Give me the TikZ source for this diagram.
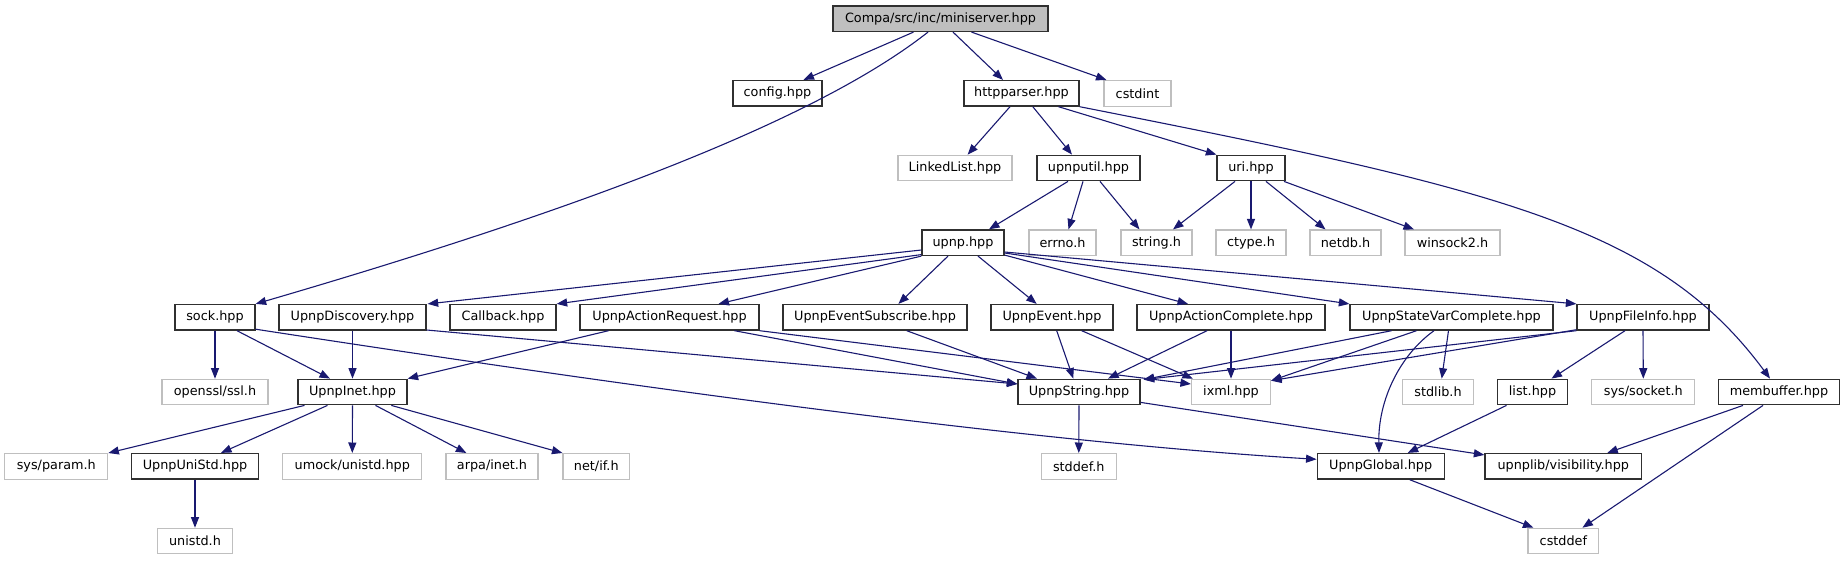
\documentclass[tikz,border=0pt]{standalone}
\usepackage{fontspec}
\setmainfont{DejaVu Sans}
\usetikzlibrary{arrows.meta}
\definecolor{edgec}{HTML}{191970}
\definecolor{grayb}{HTML}{BFBFBF}
\definecolor{darkb}{HTML}{303030}
\tikzset{
  box/.style={draw=darkb, line width=1.3pt, fill=white, minimum height=25.5pt, inner sep=0pt, font=\fontsize{12.8}{15}\selectfont},
  gbox/.style={box, draw=grayb, line width=1.1pt},
  rootbox/.style={box, fill=grayb},
  e/.style={draw=edgec, line width=1.1pt, -{Triangle[length=10.5pt,width=8pt]}}
}
\begin{document}
\begin{tikzpicture}[x=1pt,y=-1pt]
\useasboundingbox (0,0) rectangle (1845,560);
% row 0
\node[rootbox, minimum width=215pt] (root) at (940.5,18.7) {Compa/src/inc/miniserver.hpp};
% row 1
\node[box, minimum width=89pt] (config) at (777.5,93.3) {config.hpp};
\node[box, minimum width=115pt] (httpparser) at (1021.5,93.3) {httpparser.hpp};
\node[gbox, minimum width=67pt] (cstdint) at (1137.5,93.3) {cstdint};
% row 2
\node[gbox, minimum width=114pt] (linkedlist) at (955,168) {LinkedList.hpp};
\node[box, minimum width=103pt] (upnputil) at (1088.5,168) {upnputil.hpp};
\node[box, minimum width=68pt] (uri) at (1251,168) {uri.hpp};
% row 3
\node[box, minimum width=82pt] (upnp) at (963,242.7) {upnp.hpp};
\node[gbox, minimum width=67pt] (errno) at (1062.5,242.7) {errno.h};
\node[gbox, minimum width=71pt] (stringh) at (1156.5,242.7) {string.h};
\node[gbox, minimum width=70pt] (ctype) at (1251,242.7) {ctype.h};
\node[gbox, minimum width=71pt] (netdb) at (1345.5,242.7) {netdb.h};
\node[gbox, minimum width=95pt] (winsock) at (1452.5,242.7) {winsock2.h};
% row 4
\node[box, minimum width=80pt] (sock) at (215,317.3) {sock.hpp};
\node[box, minimum width=147pt] (discovery) at (352.5,317.3) {UpnpDiscovery.hpp};
\node[box, minimum width=106pt] (callback) at (503,317.3) {Callback.hpp};
\node[box, minimum width=179pt] (actreq) at (669.5,317.3) {UpnpActionRequest.hpp};
\node[box, minimum width=184pt] (evsub) at (875,317.3) {UpnpEventSubscribe.hpp};
\node[box, minimum width=122pt] (event) at (1052,317.3) {UpnpEvent.hpp};
\node[box, minimum width=188pt] (actcomp) at (1231,317.3) {UpnpActionComplete.hpp};
\node[box, minimum width=203pt] (statevar) at (1451.5,317.3) {UpnpStateVarComplete.hpp};
\node[box, minimum width=132pt] (fileinfo) at (1643,317.3) {UpnpFileInfo.hpp};
% row 5
\node[gbox, minimum width=106pt] (openssl) at (215,392) {openssl/ssl.h};
\node[box, minimum width=109pt] (inet) at (352.5,392) {UpnpInet.hpp};
\node[box, minimum width=122pt] (upnpstring) at (1079,392) {UpnpString.hpp};
\node[gbox, minimum width=79pt] (ixml) at (1231,392) {ixml.hpp};
\node[gbox, minimum width=70.6pt] (stdlib) at (1438,392) {stdlib.h};
\node[box, minimum width=70pt] (list) at (1532.5,392) {list.hpp};
\node[gbox, minimum width=103pt] (syssocket) at (1643.3,392) {sys/socket.h};
\node[box, minimum width=121pt] (membuffer) at (1779,392) {membuffer.hpp};
% row 6
\node[gbox, minimum width=103pt] (sysparam) at (56.3,466.3) {sys/param.h};
\node[box, minimum width=127pt] (unistd) at (195,466.3) {UpnpUniStd.hpp};
\node[gbox, minimum width=139pt] (umock) at (352.3,466.3) {umock/unistd.hpp};
\node[gbox, minimum width=92pt] (arpa) at (492,466.3) {arpa/inet.h};
\node[gbox, minimum width=66.6pt] (netif) at (596.3,466.3) {net/if.h};
\node[gbox, minimum width=74.5pt] (stddef) at (1078.8,466.3) {stddef.h};
\node[box, minimum width=127pt] (global) at (1380.7,466.3) {UpnpGlobal.hpp};
\node[box, minimum width=156.6pt] (visibility) at (1563.3,466.3) {upnplib/visibility.hpp};
% row 7
\node[gbox, minimum width=75pt] (unistdh) at (195,541) {unistd.h};
\node[gbox, minimum width=70.8pt] (cstddef) at (1563.4,541) {cstddef};

% root edges
\draw[e] ([shift={(-27,0)}]root.south) -- ([shift={(26,0)}]config.north);
\draw[e] ([shift={(-12.5,0)}]root.south) .. controls (810,125) and (560,215) .. (sock.north east);
\draw[e] ([shift={(12.5,0)}]root.south) -- ([shift={(-18.5,0)}]httpparser.north);
\draw[e] ([shift={(31,0)}]root.south) -- ([shift={(-31,0)}]cstdint.north);
% httpparser
\draw[e] ([shift={(-11.5,0)}]httpparser.south) -- ([shift={(12.6,0)}]linkedlist.north);
\draw[e] ([shift={(11.3,0)}]httpparser.south) -- ([shift={(-16.5,0)}]upnputil.north);
\draw[e] ([shift={(37,0)}]httpparser.south) -- (uri.north west);
\draw[e] (httpparser.south east) .. controls (1500,189.5) and (1658,227) .. ([shift={(-9,0)}]membuffer.north);
% upnputil, uri
\draw[e] ([shift={(-20.5,0)}]upnputil.south) -- ([shift={(26,0)}]upnp.north);
\draw[e] ([shift={(-5.5,0)}]upnputil.south) -- ([shift={(6,0)}]errno.north);
\draw[e] ([shift={(11.5,0)}]upnputil.south) -- ([shift={(-17,0)}]stringh.north);
\draw[e] ([shift={(-16,0)}]uri.south) -- ([shift={(16.5,0)}]stringh.north);
\draw[e] (uri.south) -- (ctype.north);
\draw[e] ([shift={(15,0)}]uri.south) -- ([shift={(-20,0)}]netdb.north);
\draw[e] ([shift={(33,0)}]uri.south) -- ([shift={(-38.5,0)}]winsock.north);
% upnp
\draw[e] ([shift={(0,7.3)}]upnp.west) -- ([shift={(1,0)}]discovery.north east);
\draw[e] ([shift={(0,-1.5)}]upnp.south west) -- (callback.north east);
\draw[e] (upnp.south west) -- ([shift={(49,0)}]actreq.north);
\draw[e] ([shift={(-15,0)}]upnp.south) -- ([shift={(23.4,0)}]evsub.north);
\draw[e] ([shift={(15,0)}]upnp.south) -- ([shift={(-15.3,0)}]event.north);
\draw[e] ([shift={(0,-1)}]upnp.south east) -- ([shift={(-43,0)}]actcomp.north);
\draw[e] ([shift={(0,10.3)}]upnp.east) -- (statevar.north west);
\draw[e] ([shift={(0,9.3)}]upnp.east) -- (fileinfo.north west);
% sock
\draw[e] (sock.south) -- (openssl.north);
\draw[e] ([shift={(22,0)}]sock.south) -- ([shift={(-22.5,0)}]inet.north);
\draw[e] ([shift={(0,-1.5)}]sock.south east) .. controls (560,376) and (1000,440) .. ([shift={(0,-7)}]global.west);
% discovery, actreq
\draw[e] (discovery.south) -- (inet.north);
\draw[e] ([shift={(0,-0.7)}]discovery.south east) -- ([shift={(0,-8)}]upnpstring.west);
\draw[e] ([shift={(-61,0)}]actreq.south) -- (inet.north east);
\draw[e] ([shift={(65,0)}]actreq.south) -- ([shift={(0,-8)}]upnpstring.west);
\draw[e] (actreq.south east) -- ([shift={(0,-8)}]ixml.west);
% evsub, event, actcomp
\draw[e] ([shift={(31.7,0)}]evsub.south) -- ([shift={(-42,0)}]upnpstring.north);
\draw[e] ([shift={(4.7,0)}]event.south) -- ([shift={(-5.7,0)}]upnpstring.north);
\draw[e] ([shift={(29.7,0)}]event.south) -- ([shift={(2,0)}]ixml.north west);
\draw[e] ([shift={(-24,0)}]actcomp.south) -- ([shift={(29,0)}]upnpstring.north);
\draw[e] (actcomp.south) -- (ixml.north);
% statevar
\draw[e] ([shift={(-60,0)}]statevar.south) -- ([shift={(3,1)}]upnpstring.north east);
\draw[e] ([shift={(-35,0)}]statevar.south) -- ([shift={(0,2)}]ixml.north east);
\draw[e] ([shift={(-3,0)}]statevar.south) -- ([shift={(3.7,0)}]stdlib.north);
\draw[e] ([shift={(-17.5,0)}]statevar.south) .. controls (1400,355) and (1378,400) .. ([shift={(-1.7,0)}]global.north);
% fileinfo
\draw[e] (fileinfo.south west) -- ([shift={(3,1)}]upnpstring.north east);
\draw[e] ([shift={(0,-1)}]fileinfo.south west) -- ([shift={(0,2)}]ixml.north east);
\draw[e] ([shift={(-18,0)}]fileinfo.south) -- ([shift={(19,0)}]list.north);
\draw[e] (fileinfo.south) -- (syssocket.north);
% inet
\draw[e] ([shift={(-48,0)}]inet.south) -- (sysparam.north east);
\draw[e] ([shift={(-25,0)}]inet.south) -- ([shift={(26,0)}]unistd.north);
\draw[e] (inet.south) -- (umock.north);
\draw[e] ([shift={(23,0)}]inet.south) -- ([shift={(-25.6,0)}]arpa.north);
\draw[e] ([shift={(38.8,0)}]inet.south) -- (netif.north west);
\draw[e] (unistd.south) -- (unistdh.north);
% upnpstring
\draw[e] (upnpstring.south) -- (stddef.north);
\draw[e] ([shift={(0,-3)}]upnpstring.south east) -- ([shift={(0,2)}]visibility.north west);
% list, membuffer, global
\draw[e] ([shift={(-26,0)}]list.south) -- ([shift={(27,0)}]global.north);
\draw[e] ([shift={(-36,0)}]membuffer.south) -- ([shift={(44,0)}]visibility.north);
\draw[e] ([shift={(-16,0)}]membuffer.south) -- ([shift={(19,0)}]cstddef.north);
\draw[e] ([shift={(29,0)}]global.south) -- ([shift={(-30,0)}]cstddef.north);
\end{tikzpicture}
\end{document}
